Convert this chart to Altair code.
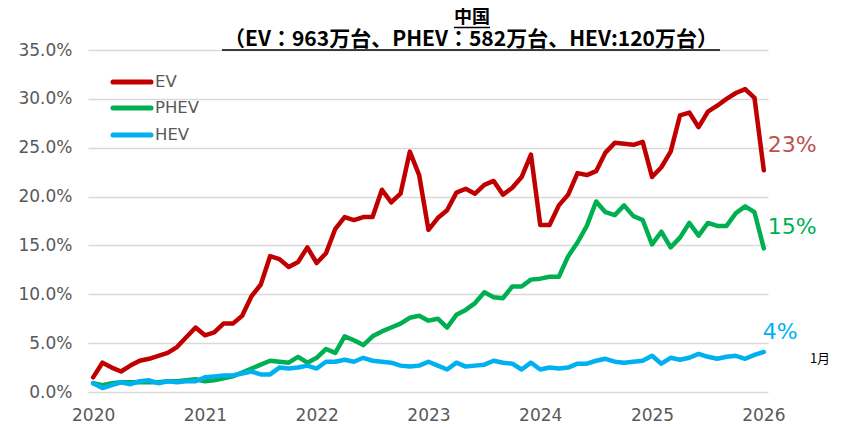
import altair as alt
import pandas as pd

# Monthly share of new-car sales in China, Jan 2020 .. Jan 2026 (%)
ev = [1.5, 3.0, 2.5, 2.1, 2.7, 3.2, 3.4, 3.7, 4.0, 4.6, 5.6, 6.6,
      5.8, 6.1, 7.0, 7.0, 7.8, 9.8, 11.0, 13.9, 13.6, 12.8, 13.3, 14.8,
      13.2, 14.2, 16.7, 17.9, 17.6, 17.9, 17.9, 20.7, 19.4, 20.3, 24.6, 22.2,
      16.6, 17.8, 18.6, 20.4, 20.8, 20.3, 21.2, 21.6, 20.2, 20.9, 22.0, 24.3,
      17.1, 17.1, 19.1, 20.2, 22.4, 22.2, 22.6, 24.5, 25.5, 25.4, 25.3, 25.6,
      22.0, 23.0, 24.6, 28.3, 28.6, 27.1, 28.7, 29.3, 30.0, 30.6, 31.0, 30.1,
      22.7]
phev = [0.9, 0.7, 0.9, 1.0, 1.0, 1.0, 1.0, 1.0, 1.1, 1.1, 1.2, 1.3,
        1.1, 1.2, 1.4, 1.6, 2.0, 2.4, 2.8, 3.2, 3.1, 3.0, 3.6, 3.0,
        3.5, 4.4, 4.0, 5.7, 5.3, 4.8, 5.7, 6.2, 6.6, 7.0, 7.6, 7.8,
        7.3, 7.5, 6.6, 7.9, 8.4, 9.1, 10.2, 9.7, 9.6, 10.8, 10.8, 11.5,
        11.6, 11.8, 11.8, 13.9, 15.3, 17.0, 19.5, 18.4, 18.1, 19.1, 18.0, 17.6,
        15.1, 16.4, 14.8, 15.8, 17.3, 16.0, 17.3, 17.0, 17.0, 18.3, 19.0, 18.4,
        14.7]
hev = [0.9, 0.4, 0.7, 1.0, 0.8, 1.1, 1.2, 0.9, 1.1, 1.0, 1.1, 1.1,
       1.5, 1.6, 1.7, 1.7, 1.9, 2.1, 1.8, 1.8, 2.5, 2.4, 2.5, 2.7,
       2.4, 3.1, 3.1, 3.3, 3.1, 3.5, 3.2, 3.1, 3.0, 2.7, 2.6, 2.7,
       3.1, 2.7, 2.3, 3.0, 2.6, 2.7, 2.8, 3.2, 3.0, 2.9, 2.3, 3.0,
       2.3, 2.5, 2.4, 2.5, 2.9, 2.9, 3.2, 3.4, 3.1, 3.0, 3.1, 3.2,
       3.7, 2.9, 3.5, 3.3, 3.5, 3.9, 3.6, 3.4, 3.6, 3.7, 3.4, 3.8,
       4.1]

series_names = ["EV", "PHEV", "HEV"]
series_colors = ["#C00000", "#00B050", "#00B0F0"]
label_colors = ["#C0504D", "#00B050", "#00B0F0"]
end_labels = ["23%", "15%", "4%"]
year_labels = ["2020", "2021", "2022", "2023", "2024", "2025", "2026"]
y_ticks = [0, 5, 10, 15, 20, 25, 30, 35]
title_line1 = "中国"
title_line2 = "（EV：963万台、PHEV：582万台、HEV:120万台）"
month_note = "1月"

rows = []
for name, vals in zip(series_names, [ev, phev, hev]):
    for i, v in enumerate(vals):
        rows.append({"series": name, "idx": i, "share": v})
df = pd.DataFrame(rows)

year_pos = [12 * k for k in range(len(year_labels))]
label_map = "{" + ",".join(f"'{p}':'{l}'" for p, l in zip(year_pos, year_labels)) + "}"

W, H = 680, 342
xscale = alt.Scale(domain=[-0.55, 72.45], nice=False, zero=False)
yscale = alt.Scale(domain=[0, 35], nice=False)

base = alt.Chart(df)

lines = base.mark_line(strokeWidth=4.5, strokeJoin="round", strokeCap="round").encode(
    x=alt.X("idx:Q", scale=xscale,
            axis=alt.Axis(values=year_pos[:-1], labelExpr=f"{label_map}[datum.value]",
                          grid=False, domain=False, ticks=False, title=None,
                          labelFont="DejaVu Sans", labelFontSize=17, labelColor="#595959",
                          labelPadding=15)),
    y=alt.Y("share:Q", scale=yscale,
            axis=alt.Axis(values=y_ticks, labelExpr="format(datum.value, '.1f') + '%'",
                          grid=True, gridColor="#D9D9D9", gridWidth=1.5,
                          domain=False, ticks=False, title=None,
                          labelFont="DejaVu Sans", labelFontSize=17, labelColor="#595959",
                          labelPadding=16)),
    color=alt.Color("series:N", scale=alt.Scale(domain=series_names, range=series_colors),
                    legend=None),
    detail="series:N",
)

layers = [lines]

# end-of-line labels
end_dy = [-25, -21, -20]
end_dx = [4, 4, -1]
for name, lab, col, dy, dx in zip(series_names, end_labels, label_colors, end_dy, end_dx):
    sub = df[(df.series == name) & (df.idx == df.idx.max())].assign(lab=lab)
    layers.append(
        alt.Chart(sub).mark_text(align="left", baseline="middle", font="DejaVu Sans",
                                 fontSize=22, color=col, dx=dx, dy=dy)
        .encode(x=alt.X("idx:Q", scale=xscale), y=alt.Y("share:Q", scale=yscale),
                text="lab:N")
    )

# last year label (slightly lower, as in the original)
yr_df = pd.DataFrame({"idx": [year_pos[-1]], "lab": [year_labels[-1]]})
layers.append(
    alt.Chart(yr_df).mark_text(align="center", baseline="middle", font="DejaVu Sans",
                               fontSize=17, color="#595959")
    .encode(x=alt.X("idx:Q", scale=xscale), y=alt.value(H + 24), text="lab:N")
)

# "1月" note
note_df = pd.DataFrame({"lab": [month_note]})
layers.append(
    alt.Chart(note_df).mark_text(align="center", baseline="middle", font="Noto Sans CJK JP",
                                 fontSize=13, color="#000000")
    .encode(x=alt.value(732), y=alt.value(309), text="lab:N")
)

# manual legend
leg_y = [32, 58, 85]
for name, col, ly in zip(series_names, series_colors, leg_y):
    ldf = pd.DataFrame({"lab": [name]})
    layers.append(
        alt.Chart(ldf).mark_rule(strokeWidth=5, color=col, strokeCap="round")
        .encode(x=alt.value(25), x2=alt.value(63), y=alt.value(ly))
    )
    layers.append(
        alt.Chart(ldf).mark_text(align="left", baseline="middle", font="DejaVu Sans",
                                 fontSize=16.5, color="#595959")
        .encode(x=alt.value(67), y=alt.value(ly), text="lab:N")
    )

# title (two bold underlined lines)
t1 = pd.DataFrame({"lab": [title_line1]})
t2 = pd.DataFrame({"lab": [title_line2]})
layers.append(
    alt.Chart(t1).mark_text(align="center", baseline="middle", font="Noto Sans CJK JP",
                            fontSize=18, fontWeight="bold", color="#000000")
    .encode(x=alt.value(384), y=alt.value(-32), text="lab:N")
)
layers.append(
    alt.Chart(t2).mark_text(align="center", baseline="middle", font="Noto Sans CJK JP",
                            fontSize=21, fontWeight="bold", color="#000000")
    .encode(x=alt.value(383), y=alt.value(-10), text="lab:N")
)
layers.append(
    alt.Chart(t1).mark_rule(strokeWidth=1.5, color="#000000")
    .encode(x=alt.value(366), x2=alt.value(402), y=alt.value(-22.5))
)
layers.append(
    alt.Chart(t2).mark_rule(strokeWidth=1.5, color="#000000")
    .encode(x=alt.value(134), x2=alt.value(632), y=alt.value(0))
)

chart = alt.layer(*layers).properties(
    width=W, height=H,
    autosize=alt.AutoSizeParams(type="none"),
    padding={"left": 80, "top": 42, "right": 76, "bottom": 32},
    background="white",
).configure_view(stroke=None)

chart.save("out.html", embed_options={"renderer": "svg", "actions": False})
